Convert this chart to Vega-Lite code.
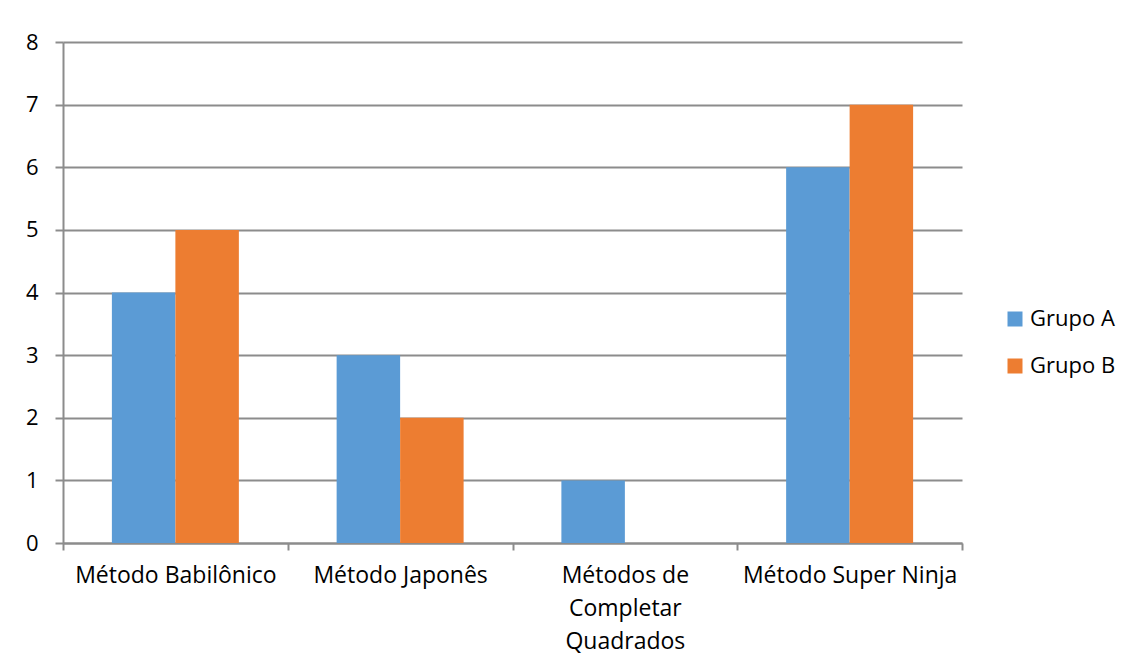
{
  "$schema": "https://vega.github.io/schema/vega-lite/v6.json",
  "width": 899,
  "height": 501,
  "autosize": {"type": "none"},
  "padding": {"left": 63, "top": 42, "right": 169, "bottom": 123},
  "background": "white",
  "data": {
    "values": [
      {"Metodo": "Método Babilônico", "Grupo": "Grupo A", "Valor": 4},
      {"Metodo": "Método Babilônico", "Grupo": "Grupo B", "Valor": 5},
      {"Metodo": "Método Japonês", "Grupo": "Grupo A", "Valor": 3},
      {"Metodo": "Método Japonês", "Grupo": "Grupo B", "Valor": 2},
      {"Metodo": "Métodos de Completar Quadrados", "Grupo": "Grupo A", "Valor": 1},
      {"Metodo": "Métodos de Completar Quadrados", "Grupo": "Grupo B", "Valor": 0},
      {"Metodo": "Método Super Ninja", "Grupo": "Grupo A", "Valor": 6},
      {"Metodo": "Método Super Ninja", "Grupo": "Grupo B", "Valor": 7}
    ]
  },
  "mark": {"type": "bar"},
  "encoding": {
    "x": {
      "field": "Metodo",
      "type": "nominal",
      "sort": null,
      "title": null,
      "scale": {"paddingInner": 0, "paddingOuter": 0},
      "axis": {
        "labelAngle": 0,
        "tickBand": "extent",
        "tickSize": 7,
        "labelPadding": 14,
        "labelFontSize": 23,
        "labelLineHeight": 33,
        "labelBaseline": "top",
        "labelLimit": 0,
        "labelExpr": "datum.label == 'Métodos de Completar Quadrados' ? ['Métodos de', 'Completar', 'Quadrados'] : datum.label"
      }
    },
    "xOffset": {"field": "Grupo", "type": "nominal", "scale": {"paddingInner": 0, "paddingOuter": 0.77}},
    "y": {
      "field": "Valor",
      "type": "quantitative",
      "title": null,
      "scale": {"domain": [0, 8], "nice": false},
      "axis": {"tickCount": 8, "tickSize": 8, "labelPadding": 17, "labelFontSize": 22, "grid": true}
    },
    "color": {
      "field": "Grupo",
      "type": "nominal",
      "title": null,
      "scale": {"domain": ["Grupo A", "Grupo B"], "range": ["#5B9BD5", "#ED7D31"]},
      "legend": {
        "orient": "none",
        "legendX": 941,
        "legendY": 266,
        "symbolType": "square",
        "symbolSize": 225,
        "symbolStrokeWidth": 0,
        "labelFontSize": 22,
        "labelOffset": 4,
        "rowPadding": 25,
        "labelLimit": 0
      }
    }
  },
  "config": {
    "font": "Open Sans",
    "view": {"stroke": null},
    "axis": {
      "domainColor": "#8c8c8c",
      "domainWidth": 2,
      "tickColor": "#8c8c8c",
      "tickWidth": 2,
      "gridColor": "#8c8c8c",
      "gridWidth": 2,
      "gridOpacity": 1,
      "labelColor": "#000000",
      "labelFont": "Open Sans"
    },
    "legend": {"labelColor": "#000000", "labelFont": "Open Sans"}
  }
}
